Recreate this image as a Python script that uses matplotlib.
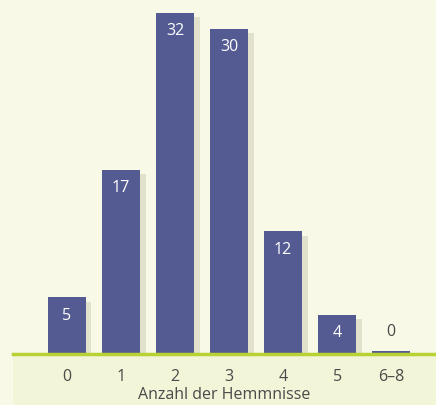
import matplotlib.pyplot as plt
import matplotlib.patheffects as pe
import numpy as np

# bar heights, labels as printed
categories = ["0", "1", "2", "3", "4", "5", "6\u20138"]
values = [5.3, 17.3, 32.0, 30.5, 11.5, 3.7, 0.3]
labels = ["5", "17", "32", "30", "12", "4", "0"]

plt.rcParams['font.family'] = ['Open Sans', 'DejaVu Sans']

bg = '#f9f9e7'
panel = '#f2f5d8'
bar_col = '#545b92'
line_col = '#b8d234'
text_col = '#4a4a4a'

fig = plt.figure(figsize=(4.36, 4.05), dpi=100, facecolor=bg)

# lower panel behind the tick labels
fig.patches.append(plt.Rectangle((13 / 436, 0), 1, 51 / 405, transform=fig.transFigure,
                                 facecolor=panel, edgecolor='none', zorder=0))

ax = fig.add_axes([13 / 436, 51 / 405, 423 / 436, 354 / 405])
ax.set_zorder(2)
ax.set_facecolor('none')
x = np.arange(len(categories))
bars = ax.bar(x, values, width=0.7, color=bar_col, zorder=3)
for b in bars:
    b.set_path_effects([pe.SimplePatchShadow(offset=(4, -3), shadow_rgbFace='#d2d2ba', alpha=0.6),
                        pe.Normal()])

ax.set_xlim(-1, 6.83)
ax.set_ylim(0, 33.2)

for xi, v, lab in zip(x, values, labels):
    if v > 2:
        ax.text(xi, v - 1.7, lab, ha='center', va='center', color='white', fontsize=11.5, zorder=4)
    else:
        ax.text(xi, v + 1.8, lab, ha='center', va='center', color=text_col, fontsize=11.5, zorder=4)

for s in ['top', 'right', 'left']:
    ax.spines[s].set_visible(False)
ax.spines['bottom'].set_color(line_col)
ax.spines['bottom'].set_linewidth(2.5)
ax.spines['bottom'].set_zorder(5)

ax.set_yticks([])
ax.set_xticks(x)
ax.set_xticklabels(categories, color=text_col, fontsize=11.5)
ax.tick_params(axis='x', length=0, pad=11)
ax.set_xlabel("Anzahl der Hemmnisse", color=text_col, fontsize=11.5, labelpad=1)

fig.savefig('out.png', dpi=100, facecolor=bg)
